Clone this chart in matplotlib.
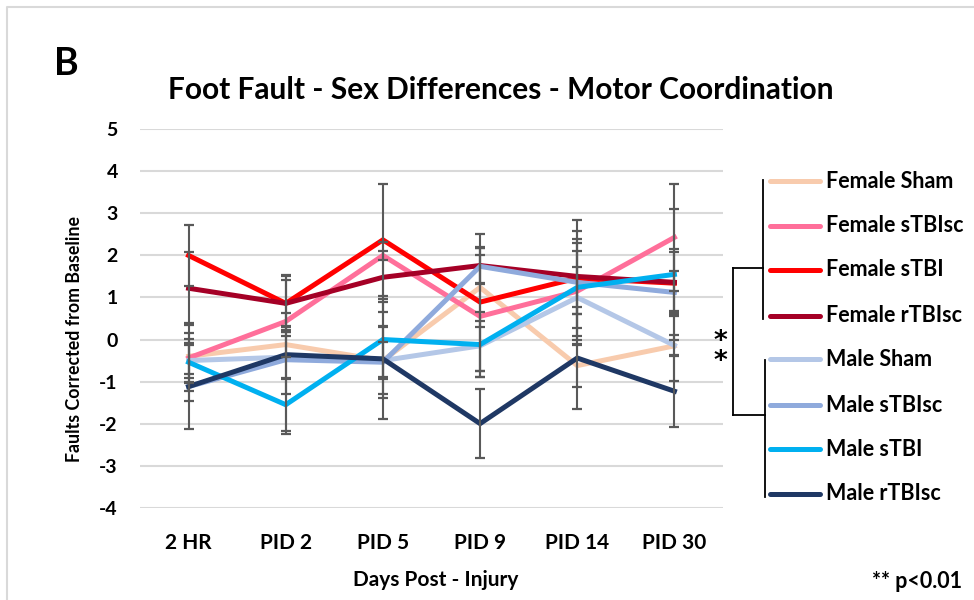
import numpy as np
import matplotlib
matplotlib.use('Agg')
import matplotlib.pyplot as plt
from matplotlib.lines import Line2D

plt.rcParams['font.family'] = ['Lato', 'DejaVu Sans']
plt.rcParams['font.weight'] = 'bold'
plt.rcParams['axes.unicode_minus'] = False

# time points and group means (faults corrected from baseline)
days = ['2 HR', 'PID 2', 'PID 5', 'PID 9', 'PID 14', 'PID 30']
groups = ['Female Sham', 'Female sTBIsc', 'Female sTBI', 'Female rTBIsc',
          'Male Sham', 'Male sTBIsc', 'Male sTBI', 'Male rTBIsc']

f_sham = [-0.40, -0.12, -0.50, 1.24, -0.62, -0.15]
f_stbisc = [-0.44, 0.43, 2.00, 0.55, 1.15, 2.43]
f_stbi = [2.00, 0.86, 2.37, 0.89, 1.46, 1.34]
f_rtbisc = [1.22, 0.86, 1.48, 1.76, 1.50, 1.36]
m_sham = [-0.50, -0.42, -0.50, -0.15, 1.00, -0.14]
m_stbisc = [-1.12, -0.48, -0.54, 1.74, 1.36, 1.12]
m_stbi = [-0.54, -1.55, 0.00, -0.12, 1.24, 1.55]
m_rtbisc = [-1.12, -0.36, -0.46, -2.00, -0.44, -1.23]

# SEM
f_sham_err = [0.42, 0.30, 0.79, 0.95, 0.50, 0.84]
f_stbisc_err = [0.60, 0.20, 0.10, 1.45, 1.15, 1.27]
f_stbi_err = [0.73, 0.68, 1.33, 1.63, 1.38, 0.74]
f_rtbisc_err = [0.87, 0.56, 0.83, 0.41, 0.89, 0.80]
m_sham_err = [0.41, 0.50, 0.44, 0.60, 0.72, 0.24]
m_stbisc_err = [0.11, 0.81, 0.85, 0.43, 0.75, 0.50]
m_stbi_err = [0.93, 0.62, 0.89, 0.77, 1.35, 1.56]
m_rtbisc_err = [1.00, 1.88, 1.43, 0.82, 1.21, 0.84]

means = [f_sham, f_stbisc, f_stbi, f_rtbisc, m_sham, m_stbisc, m_stbi, m_rtbisc]
errs = [f_sham_err, f_stbisc_err, f_stbi_err, f_rtbisc_err,
        m_sham_err, m_stbisc_err, m_stbi_err, m_rtbisc_err]
colors = ['#F8CBAD', '#FF6F9A', '#FF0000', '#A50026',
          '#B4C7E7', '#8FAADC', '#00B0F0', '#1F3864']

W, H = 974, 600
fig = plt.figure(figsize=(W/100, H/100), dpi=100)
ax = fig.add_axes([140/W, 1-507.7/H, 583/W, 378.4/H])

x = np.arange(len(days))
for m, c in zip(means, colors):
    ax.plot(x, m, color=c, lw=3.6, solid_joinstyle='miter', zorder=3)
for m, e in zip(means, errs):
    ax.errorbar(x, m, yerr=e, fmt='none', ecolor='#595959', elinewidth=1.5,
                capsize=3.8, capthick=1.6, zorder=4)

ax.set_xlim(-0.5, 5.5)
ax.set_ylim(-4, 5)
ax.set_yticks(range(-4, 6))
ax.set_xticks(x)
ax.set_xticklabels(days)
ax.grid(axis='y', color='#D9D9D9', lw=1.5, zorder=0)
ax.set_axisbelow(True)
for s in ax.spines.values():
    s.set_visible(False)
ax.tick_params(axis='y', length=0, pad=16, labelsize=14)
ax.tick_params(axis='x', length=0, pad=18, labelsize=15)

fig.text(75/W, 1-339/H, 'Faults Corrected from Baseline', rotation=90,
         ha='center', va='center', fontsize=12.8)
fig.text(436/W, 1-580/H, 'Days Post - Injury', ha='center', va='center', fontsize=15)
fig.text(501/W, 1-90/H, 'Foot Fault - Sex Differences - Motor Coordination',
         ha='center', va='center', fontsize=21.5)
fig.text(54/W, 1-64/H, 'B', ha='left', va='center', fontsize=27)
fig.text(962/W, 1-582/H, '** p<0.01', ha='right', va='center', fontsize=15.5)

# legend with bracket grouping females vs males
leg_y = [181, 226, 270, 316, 359, 405, 449, 494]
for yy, g, c in zip(leg_y, groups, colors):
    fig.add_artist(Line2D([770/W, 820/W], [1-yy/H, 1-yy/H], color=c, lw=3.6,
                          solid_capstyle='round'))
    fig.text(826/W, 1-yy/H, g, ha='left', va='center', fontsize=15.5)

bk = dict(color='black', lw=1.3)
fig.add_artist(Line2D([763/W, 763/W], [1-180/H, 1-319/H], **bk))
fig.add_artist(Line2D([765/W, 765/W], [1-360/H, 1-497/H], **bk))
fig.add_artist(Line2D([733/W, 763/W], [1-268/H, 1-268/H], **bk))
fig.add_artist(Line2D([733/W, 733/W], [1-268/H, 1-415/H], **bk))
fig.add_artist(Line2D([733/W, 765/W], [1-415/H, 1-415/H], **bk))
fig.text(720/W, 1-352/H, '*\n*', ha='center', va='center', fontsize=19,
         family='DejaVu Sans', linespacing=0.7)

# chart area border
fig.add_artist(Line2D([7/W, 7/W, 1], [0, 1-7/H, 1-7/H], color='#D9D9D9', lw=1.5))

fig.savefig('out.png', dpi=100)
